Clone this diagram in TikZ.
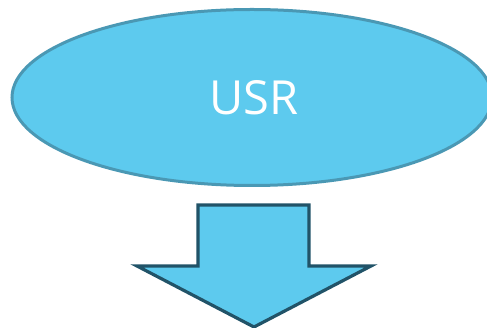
\documentclass[tikz,border=0pt]{standalone}
\usepackage{fontspec}
\setmainfont{Open Sans}
\usetikzlibrary{shapes.geometric}
\definecolor{skyfill}{HTML}{5DCAEE}
\definecolor{skyline}{HTML}{4A98B4}
\definecolor{arrowline}{HTML}{215368}
\begin{document}
\begin{tikzpicture}[x=1pt, y=-1pt]
\tikzset{usrbubble/.style={ellipse, draw=skyline, fill=skyfill, line width=3pt,
    minimum width=480pt, minimum height=176pt, inner sep=0pt,
    text=white, font=\fontsize{47}{50}\selectfont},
  blockarrow/.style={draw=arrowline, fill=skyfill, line width=3.2pt, miter limit=20}}
\useasboundingbox (0,0) rectangle (487,328);
% ellipse
\node[usrbubble] (usr) at (252,97.5) {\raisebox{-1.5pt}{\hspace*{4pt}USR}};
% down arrow
\draw[blockarrow] (198,205) -- (309,205) -- (309,266) -- (371,266) -- (254,327)
  -- (137,266) -- (198,266) -- cycle;
\end{tikzpicture}
\end{document}
